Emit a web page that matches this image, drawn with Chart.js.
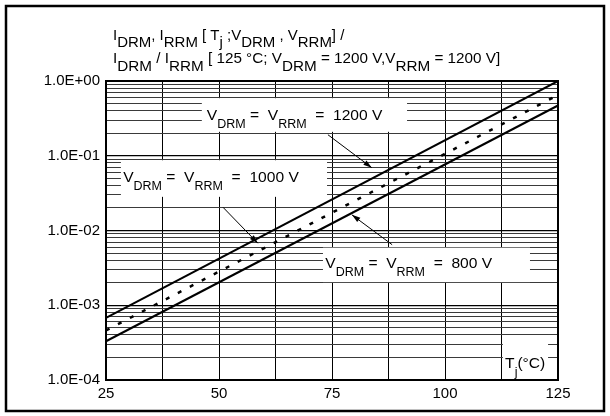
<!DOCTYPE html>
<html>
<head>
<meta charset="utf-8">
<script src="https://cdn.jsdelivr.net/npm/chart.js@4.4.1/dist/chart.umd.min.js"></script>
<style>
  html, body { margin: 0; padding: 0; background: #fff; }
  canvas { display: block; }
</style>
</head>
<body>
<canvas id="leak" width="610" height="416"></canvas>
<script>
// values (Tj in °C, relative leakage current)
const temps = [25, 125];
const iv1200 = [6.8e-4, 1.0];
const iv1000 = [4.6e-4, 0.65];
const iv800 = [3.3e-4, 0.47];

const xLabels = [25, 50, 75, 100, 125];
const xGrid = [25, 37.5, 50, 62.5, 75, 87.5, 100, 112.5, 125];
const yDecades = [-4, -3, -2, -1, 0];

const FONT = '"Liberation Sans", Arial, sans-serif';

// label boxes, placed in data coordinates
const boxes = [
  { x1: 46.2, x2: 91.6, y1: 0.589, y2: 0.209, tx: 47.3, ty: 0.302,
    parts: [['V'], ['DRM', 's'], [' =  '], ['V'], ['RRM', 's'], ['  =  1200 V']] },
  { x1: 28.3, x2: 73.9, y1: 0.0871, y2: 0.0282, tx: 28.8, ty: 0.0447,
    parts: [['V'], ['DRM', 's'], [' =  '], ['V'], ['RRM', 's'], ['  =  1000 V']] },
  { x1: 73.0, x2: 118.8, y1: 0.00589, y2: 0.00204, tx: 73.5, ty: 0.00316,
    parts: [['V'], ['DRM', 's'], [' =  '], ['V'], ['RRM', 's'], ['  =  800 V']] },
  { x1: 112.8, x2: 122.8, y1: 3.47e-4, y2: 1e-4, tx: 113.3, ty: 1.45e-4,
    parts: [['T'], ['j', 's'], ['(°C)']] }
];

const arrows = [
  { from: [74.1, 0.191], to: [83.8, 0.0692] },
  { from: [50.9, 0.0204], to: [58.6, 0.00676] },
  { from: [88.3, 0.00646], to: [79.4, 0.0162] }
];

const titleLines = [
  [['I'], ['DRM', 's'], [', '], ['I'], ['RRM', 's'], [' [ T'], ['j', 's'], [' ;V'], ['DRM', 's'], [' , V'], ['RRM', 's'], ['] /']],
  [['I'], ['DRM', 's'], [' / '], ['I'], ['RRM', 's'], [' [ 125 °C; V'], ['DRM', 's'], [' = 1200 V,V'], ['RRM', 's'], [' = 1200 V]']]
];

function isDecade(v) {
  const l = Math.log10(v);
  return Math.abs(l - Math.round(l)) < 1e-9;
}

function fmtE(v) {
  const e = Math.round(Math.log10(v));
  return '1.0E' + (e < 0 ? '-' : '+') + String(Math.abs(e)).padStart(2, '0');
}

function drawRich(ctx, parts, x, y, size, subSize, subDy, sx) {
  ctx.save();
  ctx.translate(x, y);
  ctx.scale(sx, 1);
  ctx.fillStyle = '#000';
  ctx.textBaseline = 'alphabetic';
  let cx = 0;
  parts.forEach(p => {
    const sub = p[1] === 's';
    ctx.font = (sub ? subSize : size) + 'px ' + FONT;
    ctx.fillText(p[0], cx, sub ? subDy : 0);
    cx += ctx.measureText(p[0]).width;
  });
  ctx.restore();
}

const overlay = {
  id: 'overlay',
  beforeDatasetsDraw(chart) {
    const { ctx, scales: { x, y } } = chart;
    ctx.save();
    ctx.fillStyle = '#fff';
    boxes.forEach(b => {
      const l = x.getPixelForValue(b.x1), r = x.getPixelForValue(b.x2);
      const t = y.getPixelForValue(b.y1), bt = y.getPixelForValue(b.y2);
      ctx.fillRect(l, t, r - l, bt - t);
    });
    ctx.restore();
  },
  afterDatasetsDraw(chart) {
    const { ctx, chartArea: a, scales: { x, y } } = chart;
    ctx.save();
    // arrows
    ctx.strokeStyle = '#000';
    ctx.fillStyle = '#000';
    ctx.lineWidth = 1;
    arrows.forEach(ar => {
      const x0 = x.getPixelForValue(ar.from[0]), y0 = y.getPixelForValue(ar.from[1]);
      const x1 = x.getPixelForValue(ar.to[0]), y1 = y.getPixelForValue(ar.to[1]);
      const ang = Math.atan2(y1 - y0, x1 - x0);
      ctx.beginPath();
      ctx.moveTo(x0, y0);
      ctx.lineTo(x1, y1);
      ctx.stroke();
      ctx.beginPath();
      ctx.moveTo(x1, y1);
      ctx.lineTo(x1 - 9 * Math.cos(ang - 0.3), y1 - 9 * Math.sin(ang - 0.3));
      ctx.lineTo(x1 - 9 * Math.cos(ang + 0.3), y1 - 9 * Math.sin(ang + 0.3));
      ctx.closePath();
      ctx.fill();
    });
    // box texts
    boxes.forEach(b => {
      drawRich(ctx, b.parts, x.getPixelForValue(b.tx), y.getPixelForValue(b.ty), 15, 12, 8, 1.04);
    });
    // plot frame
    ctx.lineWidth = 2;
    ctx.strokeRect(a.left, a.top, a.right - a.left, a.bottom - a.top);
    ctx.restore();
  },
  afterDraw(chart) {
    const { ctx } = chart;
    drawRich(ctx, titleLines[0], 113, 40, 14, 14, 7, 1.07);
    drawRich(ctx, titleLines[1], 113, 63, 14, 14, 8, 1.09);
    ctx.save();
    ctx.strokeStyle = '#000';
    ctx.lineWidth = 2.5;
    ctx.strokeRect(6, 6, 598, 405);
    ctx.restore();
  }
};

Chart.defaults.font.family = FONT;
Chart.defaults.font.size = 15;
Chart.defaults.color = '#000';

const pts = vals => temps.map((t, i) => ({ x: t, y: vals[i] }));

new Chart(document.getElementById('leak'), {
  type: 'line',
  data: {
    datasets: [
      { label: 'VDRM = VRRM = 1200 V', data: pts(iv1200), borderColor: '#000', borderWidth: 2, pointRadius: 0 },
      { label: 'VDRM = VRRM = 1000 V', data: pts(iv1000), borderColor: '#000', borderWidth: 2.5, pointRadius: 0,
        borderDash: [4, 9.5], borderCapStyle: 'butt' },
      { label: 'VDRM = VRRM = 800 V', data: pts(iv800), borderColor: '#000', borderWidth: 2, pointRadius: 0 }
    ]
  },
  options: {
    responsive: false,
    animation: false,
    layout: { padding: { left: 0, top: 81, right: 52, bottom: 0 } },
    plugins: {
      legend: { display: false },
      tooltip: { enabled: false }
    },
    scales: {
      x: {
        type: 'linear',
        min: 25,
        max: 125,
        afterBuildTicks: scale => { scale.ticks = xGrid.map(v => ({ value: v })); },
        afterFit: scale => { scale.height = 36; },
        ticks: {
          autoSkip: false,
          maxRotation: 0,
          padding: 5,
          callback: v => (xLabels.includes(v) ? String(v) : '')
        },
        grid: { color: '#000', lineWidth: 1, drawTicks: false },
        border: { color: '#000', width: 2 }
      },
      y: {
        type: 'logarithmic',
        min: 1e-4,
        max: 1,
        afterBuildTicks: scale => {
          const t = [];
          yDecades.forEach(e => {
            if (e === 0) { t.push({ value: 1 }); return; }
            for (let m = 1; m <= 9; m++) t.push({ value: m * Math.pow(10, e) });
          });
          scale.ticks = t;
        },
        afterFit: scale => { scale.width = 106; },
        ticks: {
          autoSkip: false,
          padding: 6,
          callback: v => (isDecade(v) ? fmtE(v) : '')
        },
        grid: {
          drawTicks: false,
          color: c => (c.tick && isDecade(c.tick.value) ? '#000' : '#3a3a3a'),
          lineWidth: c => (c.tick && isDecade(c.tick.value) ? 1.3 : 1)
        },
        border: { color: '#000', width: 2 }
      }
    }
  },
  plugins: [overlay]
});
</script>
</body>
</html>
